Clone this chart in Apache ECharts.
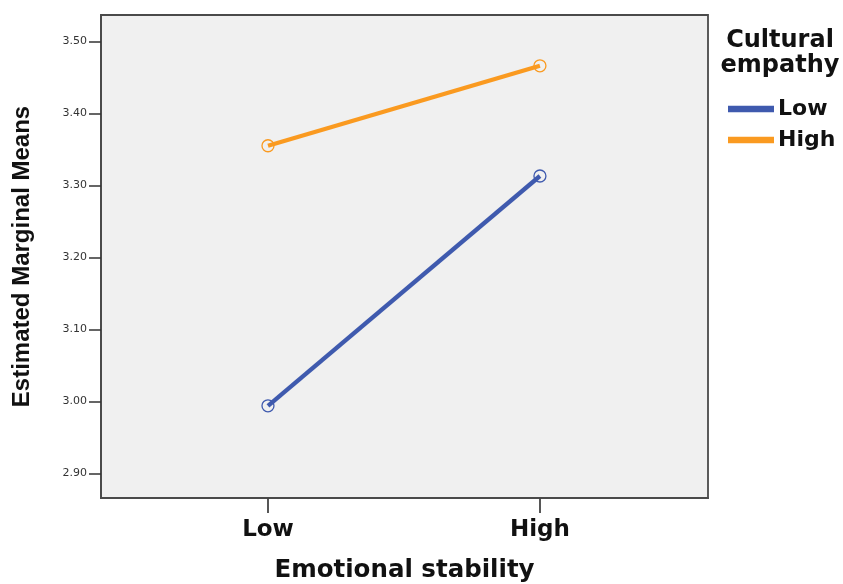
<!DOCTYPE html>
<html><head><meta charset="utf-8">
<script src="https://cdn.jsdelivr.net/npm/echarts@6/dist/echarts.min.js"></script>
<style>html,body{margin:0;padding:0;background:#fff}#c{width:843px;height:584px}</style>
</head><body><div id="c"></div>
<script>
const categories = ['Low', 'High'];
const yTicks = [2.90, 3.00, 3.10, 3.20, 3.30, 3.40, 3.50];
const lowEmpathy = [2.994, 3.313];
const highEmpathy = [3.355, 3.466];
const seriesNames = ['Low', 'High'];
const colors = ['#3f5aae', '#fa9a20'];

const chart = echarts.init(document.getElementById('c'));
const mk = (vals) => vals.map((v, i) => [i, v]);
const mkSeries = (name, vals, color) => ({
  name, type: 'line', data: mk(vals),
  lineStyle: { color, width: 4.3 },
  symbol: 'circle', symbolSize: 12,
  itemStyle: { color: 'transparent', borderColor: color, borderWidth: 1.3 },
  emphasis: { disabled: true }, silent: true, animation: false
});
const bold = 'DejaVu Sans';
chart.setOption({
  animation: false,
  grid: { left: 101, right: 135, top: 15, bottom: 86, show: true, containLabel: false, outerBoundsMode: 'none',
    backgroundColor: '#f0f0f0', borderColor: '#4a4a4a', borderWidth: 1.8 },
  xAxis: { type: 'value', min: -0.614, max: 1.618,
    name: 'Emotional stability', nameLocation: 'middle', nameGap: 60,
    nameTextStyle: { fontFamily: bold, fontWeight: 'bold', fontSize: 24.5, color: '#111' },
    splitLine: { show: false },
    axisLine: { show: true, onZero: false, lineStyle: { color: '#4a4a4a', width: 1.8 } },
    axisTick: { show: true, customValues: [0, 1], length: 15, lineStyle: { color: '#444', width: 1.8 } },
    axisLabel: { customValues: [0, 1], formatter: v => categories[Math.round(v)], margin: 21,
      fontFamily: bold, fontWeight: 'bold', fontSize: 23, color: '#111' } },
  yAxis: { type: 'value', min: 2.866, max: 3.5365,
    name: 'Estimated Marginal Means', nameLocation: 'middle', nameGap: 67, nameRotate: 90,
    nameTextStyle: { fontFamily: 'Liberation Sans', fontWeight: 'bold', fontSize: 24, color: '#111' },
    splitLine: { show: false },
    axisLine: { show: true, onZero: false, lineStyle: { color: '#4a4a4a', width: 1.8 } },
    axisTick: { show: true, customValues: yTicks, length: 12, lineStyle: { color: '#333', width: 1.5 } },
    axisLabel: { customValues: yTicks, formatter: v => v.toFixed(2), margin: 14,
      fontFamily: 'DejaVu Sans', fontSize: 11, color: '#333' } },
  legend: { orient: 'vertical', left: 723, top: 93, itemGap: 9, icon: 'rect',
    itemWidth: 44, itemHeight: 4.5,
    textStyle: { fontFamily: bold, fontWeight: 'bold', fontSize: 22, color: '#111' },
    data: [ { name: seriesNames[0], itemStyle: { color: colors[0] } },
            { name: seriesNames[1], itemStyle: { color: colors[1] } } ] },
  graphic: [
    { type: 'text', x: 780, y: 41, style: { text: 'Cultural', align: 'center', verticalAlign: 'middle', font: 'bold 24px "DejaVu Sans"', fill: '#111' } },
    { type: 'text', x: 780, y: 66, style: { text: 'empathy', align: 'center', verticalAlign: 'middle', font: 'bold 24px "DejaVu Sans"', fill: '#111' } }
  ],
  series: [ mkSeries(seriesNames[0], lowEmpathy, colors[0]), mkSeries(seriesNames[1], highEmpathy, colors[1]) ]
});
</script></body></html>
